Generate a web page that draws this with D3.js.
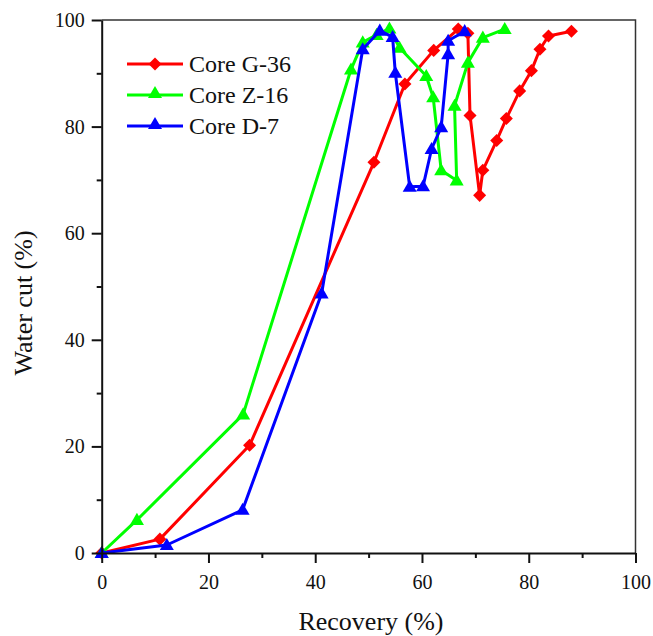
<!DOCTYPE html>
<html>
<head>
<meta charset="utf-8">
<script src="https://cdn.jsdelivr.net/npm/d3@7"></script>
<style>
  body { margin: 0; background: #fff; }
  text { font-family: "Liberation Serif", "Times New Roman", serif; }
</style>
</head>
<body>
<svg id="chart" width="653" height="636"></svg>
<script>
// values: [recovery %, water cut %]
var seriesNames = [ "Core G-36", "Core Z-16", "Core D-7" ];
var coreG36 = [ [0,0], [10.9,2.6], [27.7,20.2], [51.0,73.3], [56.8,88.0], [62.2,94.3],
    [66.8,98.3], [68.6,97.5], [69.0,82.1], [70.8,67.1], [71.4,71.8], [74.0,77.4],
    [75.8,81.5], [78.3,86.7], [80.5,90.5], [82.1,94.5], [83.7,97.0], [88.0,97.9] ];
var coreZ16 = [ [0,0], [6.6,6.2], [26.5,26.0], [46.7,90.7], [48.9,95.8], [51.5,97.2],
    [53.9,98.4], [55.8,94.8], [60.8,89.5], [62.1,85.5], [63.6,71.8], [66.5,69.9],
    [66.1,83.9], [68.6,92.0], [71.4,96.7], [75.5,98.3] ];
var coreD7 = [ [0,0], [12.2,1.5], [26.4,8.1], [41.2,48.7], [48.9,94.5], [52.1,98.0],
    [54.5,96.8], [55.0,90.1], [57.7,68.7], [60.2,68.8], [61.8,75.8], [63.6,79.9],
    [64.9,93.6], [64.9,96.1], [68.0,97.9] ];
var xTicks = [ 0, 20, 40, 60, 80, 100 ];
var yTicks = [ 0, 20, 40, 60, 80, 100 ];

window.addEventListener( "load", makeChart );
function makeChart() {
    var svg = d3.select( "#chart" );
    var x0 = 101.7, x1 = 635.5, y0 = 553, y1 = 20;

    var scX = d3.scaleLinear().domain( [0,100] ).range( [x0, x1] );
    var scY = d3.scaleLinear().domain( [0,100] ).range( [y0, y1] );

    // diamond = square turned 45 degrees, triangles nudged down a bit
    var series = [
        { name: seriesNames[0], data: coreG36, color: "#ff0000", sym: d3.symbolSquare, size: 85, rot: 45, dy: 0 },
        { name: seriesNames[1], data: coreZ16, color: "#00ff00", sym: d3.symbolTriangle, size: 85, rot: 0, dy: 1 },
        { name: seriesNames[2], data: coreD7,  color: "#0000ff", sym: d3.symbolTriangle, size: 85, rot: 0, dy: 1 }
    ];

    // frame (top and right)
    svg.append( "path" )
        .attr( "d", "M" + x0 + "," + y1 + "H" + x1 + "V" + y0 )
        .attr( "fill", "none" ).attr( "stroke", "#333" ).attr( "stroke-width", 1.5 );

    var line = d3.line().x( d => scX(d[0]) ).y( d => scY(d[1]) );
    var g = svg.append( "g" );
    series.forEach( function( s ) {
        var sg = g.append( "g" );
        sg.append( "path" ).attr( "d", line( s.data ) )
            .attr( "fill", "none" ).attr( "stroke", s.color )
            .attr( "stroke-width", 3 ).attr( "stroke-linejoin", "round" );
        sg.selectAll( "path.pt" ).data( s.data ).enter().append( "path" )
            .attr( "class", "pt" )
            .attr( "d", d3.symbol().type( s.sym ).size( s.size ) )
            .attr( "transform", d => "translate(" + scX(d[0]) + "," + (scY(d[1]) + s.dy) + ") rotate(" + s.rot + ")" )
            .attr( "fill", s.color );
    } );

    // axes with minor ticks
    function styleAxis( a ) {
        a.attr( "font-family", null );
        a.select( ".domain" ).attr( "stroke", "#111" ).attr( "stroke-width", 2 );
        a.selectAll( ".tick line" ).attr( "stroke", "#111" ).attr( "stroke-width", 2 );
        a.selectAll( "text" ).attr( "font-size", 20 ).attr( "fill", "#111" )
            .style( "font-family", "'Liberation Serif', serif" );
    }
    var minor = d3.range( 10, 100, 20 );

    var ax = svg.append( "g" ).attr( "transform", "translate(0," + y0 + ")" )
        .call( d3.axisBottom( scX ).tickValues( xTicks ).tickSize( 10 ).tickPadding( 12 ).tickSizeOuter( 0 ) );
    var axm = svg.append( "g" ).attr( "transform", "translate(0," + y0 + ")" )
        .call( d3.axisBottom( scX ).tickValues( minor ).tickSize( 5 ).tickFormat( "" ).tickSizeOuter( 0 ) );
    axm.select( ".domain" ).remove();
    styleAxis( ax ); styleAxis( axm );

    var ay = svg.append( "g" ).attr( "transform", "translate(" + x0 + ",0)" )
        .call( d3.axisLeft( scY ).tickValues( yTicks ).tickSize( 10 ).tickPadding( 7 ).tickSizeOuter( 0 ) );
    var aym = svg.append( "g" ).attr( "transform", "translate(" + x0 + ",0)" )
        .call( d3.axisLeft( scY ).tickValues( minor ).tickSize( 5 ).tickFormat( "" ).tickSizeOuter( 0 ) );
    aym.select( ".domain" ).remove();
    styleAxis( ay ); styleAxis( aym );

    // axis titles
    svg.append( "text" ).attr( "x", 371 ).attr( "y", 630 )
        .attr( "text-anchor", "middle" ).attr( "font-size", 26 ).attr( "fill", "#111" )
        .text( "Recovery (%)" );
    svg.append( "text" ).attr( "transform", "translate(32," + 303 + ") rotate(-90)" )
        .attr( "text-anchor", "middle" ).attr( "font-size", 26 ).attr( "fill", "#111" )
        .text( "Water cut (%)" );

    // legend
    var lg = svg.append( "g" ).attr( "transform", "translate(127,64)" );
    series.forEach( function( s, i ) {
        var r = lg.append( "g" ).attr( "transform", "translate(0," + (i * 31) + ")" );
        r.append( "line" ).attr( "x1", 0 ).attr( "x2", 56 )
            .attr( "stroke", s.color ).attr( "stroke-width", 3 );
        r.append( "path" ).attr( "d", d3.symbol().type( s.sym ).size( s.size ) )
            .attr( "transform", "translate(28," + (s.dy ? -1 : 0) + ") rotate(" + s.rot + ")" )
            .attr( "fill", s.color );
        r.append( "text" ).attr( "x", 62 ).attr( "y", 8 )
            .attr( "font-size", 24 ).attr( "fill", "#111" ).text( s.name );
    } );
}
</script>
</body>
</html>
